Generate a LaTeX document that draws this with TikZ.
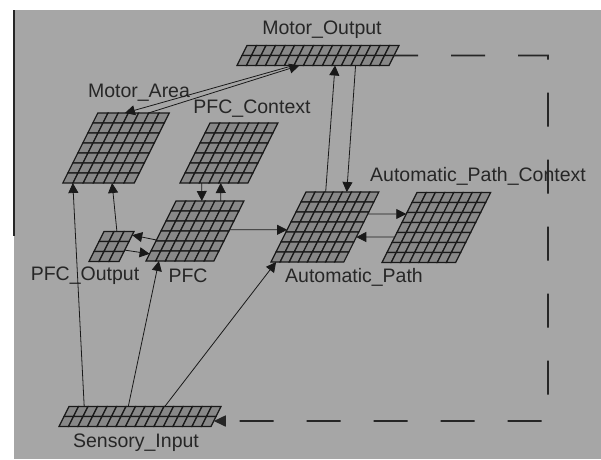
\documentclass[tikz,border=0pt]{standalone}
\usepackage{fontspec}
\setmainfont{Liberation Sans}
\usepackage{tikz}
\usetikzlibrary{calc, arrows.meta}

\definecolor{panelgray}{RGB}{166,166,166}
\definecolor{cellgray}{RGB}{136,136,136}

\tikzset{
  cell/.style={fill=cellgray, draw=black!90, line width=1.2pt},
  lbl/.style={font=\fontsize{19.5}{22}\selectfont, text=black!85},
  link/.style={draw=black!90, line width=0.8pt, -{Triangle[length=10pt,width=10pt]}},
  loopback/.style={draw=black!85, line width=1.6pt, dash pattern=on 34pt off 33pt,
    dash phase=10pt, -{Triangle[length=12pt,width=11pt]}}
}

% layer of units: name, x, y (top left), columns, rows, cell width
\newcommand{\drawlayer}[6]{%
  \begin{scope}[shift={(#2,#3)}]
    \foreach \r in {1,...,#5}
      \foreach \c in {1,...,#4}
        \draw[cell] ({(\c-1)*#6-(\r-1)*5},{(\r-1)*10}) -- ++(#6,0) -- ++(-5,10) -- ++(-#6,0) -- cycle;
    \coordinate (#1-tl) at (0,0);
    \coordinate (#1-tr) at ({#4*#6},0);
    \coordinate (#1-bl) at ({-#5*5},{#5*10});
    \coordinate (#1-br) at ({#4*#6-#5*5},{#5*10});
  \end{scope}}

\begin{document}
\begin{tikzpicture}[x=1pt, y=-1pt]
    \useasboundingbox (0,0) rectangle (601,459);
    % 1. Nền xám của khung
    \fill[white] (0,0) rectangle (601,459);
    \fill[panelgray] (14,10) rectangle (601,459);
    \draw[black!85, line width=1.8pt] (14,10) -- (14,236);

    % 2. Các lớp đơn vị
    \drawlayer{mo}{247}{45.5}{16}{2}{9.5}
    \drawlayer{ma}{97.8}{113}{7}{7}{10.2}
    \drawlayer{pc}{210}{123}{7}{6}{9.7}
    \drawlayer{pfc}{176}{201}{7}{6}{9.7}
    \drawlayer{po}{104}{231.5}{3}{3}{10}
    \drawlayer{ap}{306}{192}{8}{7}{9.1}
    \drawlayer{apc}{417}{192.5}{8}{7}{9.2}
    \drawlayer{si}{69}{406.5}{16}{2}{9.5}

    % 3. Nhãn của các lớp
    \node[lbl] (mo-lbl) at (322,30) {Motor\_Output};
    \node[lbl] (ma-lbl) at (139,93) {Motor\_Area};
    \node[lbl] (pc-lbl) at (252,109) {PFC\_Context};
    \node[lbl] (apc-lbl) at (478,176) {Automatic\_Path\_Context};
    \node[lbl] (po-lbl) at (85,276) {PFC\_Output};
    \node[lbl] (pfc-lbl) at (188,276) {PFC};
    \node[lbl] (ap-lbl) at (354,277) {Automatic\_Path};
    \node[lbl] (si-lbl) at (136,443) {Sensory\_Input};

    % 4. Các kết nối giữa các lớp
    \draw[link] ($(mo-bl)!0.37!(mo-br)$) -- ($(ma-tl)!0.38!(ma-tr)$);
    \draw[link] ($(ma-tl)!0.71!(ma-tr)$) -- ($(mo-bl)!0.41!(mo-br)$);
    \draw[link] ($(ap-tl)!0.27!(ap-tr)$) -- ($(mo-bl)!0.645!(mo-br)$);
    \draw[link] ($(mo-bl)!0.78!(mo-br)$) -- ($(ap-tl)!0.56!(ap-tr)$);
    \draw[link] ($(pc-bl)!0.32!(pc-br)$) -- ($(pfc-tl)!0.38!(pfc-tr)$);
    \draw[link] ($(pfc-tl)!0.66!(pfc-tr)$) -- ($(pc-bl)!0.6!(pc-br)$);
    \draw[link] ($(si-tl)!0.1!(si-tr)$) -- ($(ma-bl)!0.14!(ma-br)$);
    \draw[link] ($(po-tl)!0.43!(po-tr)$) -- ($(ma-bl)!0.69!(ma-br)$);
    \draw[link] ($(pfc-tl)!0.65!(pfc-bl)$) -- ($(po-tr)!0.12!(po-br)$);
    \draw[link] ($(po-tr)!0.62!(po-br)$) -- ($(pfc-tl)!0.88!(pfc-bl)$);
    \draw[link] ($(si-tl)!0.39!(si-tr)$) -- ($(pfc-bl)!0.19!(pfc-br)$);
    \draw[link] ($(si-tl)!0.63!(si-tr)$) -- ($(ap-bl)!0.07!(ap-br)$);
    \draw[link] ($(pfc-tr)!0.48!(pfc-br)$) -- ($(ap-tl)!0.54!(ap-bl)$);
    \draw[link] ($(ap-tr)!0.314!(ap-br)$) -- ($(apc-tl)!0.307!(apc-bl)$);
    \draw[link] ($(apc-tl)!0.636!(apc-bl)$) -- ($(ap-tr)!0.643!(ap-br)$);

    % 5. Đường phản hồi nét đứt từ Motor_Output về Sensory_Input
    \coordinate (loop-corner) at (548,421);
    \draw[loopback] ($(mo-tr)!0.5!(mo-br)$) -| (loop-corner)
        -- ($(si-tr)!0.725!(si-br)$);
\end{tikzpicture}
\end{document}
